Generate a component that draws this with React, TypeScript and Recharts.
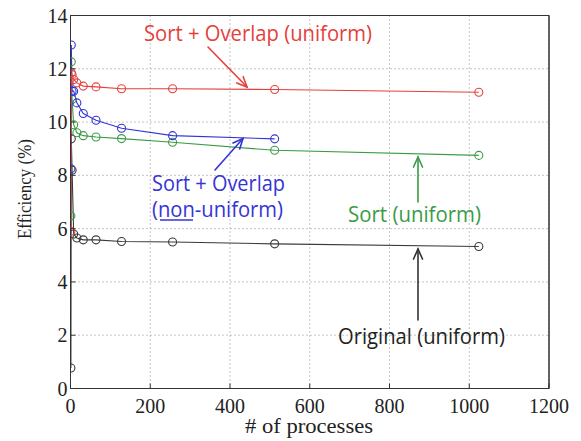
import React from 'react';
import { LineChart, Line, XAxis, YAxis, CartesianGrid, ReferenceArea } from 'recharts';

const procsAll = [1, 2, 4, 8, 16, 32, 64, 128, 256, 512, 1024];
const procsNonUniform = [1, 2, 4, 8, 16, 32, 64, 128, 256, 512];
const originalUniform = [0.77, 9.37, 8.19, 5.8, 5.65, 5.58, 5.58, 5.52, 5.5, 5.43, 5.33];
const sortUniform = [6.48, 12.26, 10.85, 9.9, 9.6, 9.49, 9.44, 9.38, 9.24, 8.94, 8.75];
const sortOverlapUniform = [5.9, 11.85, 11.78, 11.6, 11.47, 11.35, 11.32, 11.25, 11.25, 11.22, 11.12];
const sortOverlapNonUniform = [8.25, 12.89, 11.16, 11.16, 10.72, 10.32, 10.07, 9.77, 9.49, 9.37];
const xTicks = [0, 200, 400, 600, 800, 1000, 1200];
const yTicks = [0, 2, 4, 6, 8, 10, 12, 14];

const toRows = (xs: number[], ys: number[]) => xs.map((x, i) => ({ x, y: ys[i] }));

const W = 581;
const H = 441;
const SERIF = '"Liberation Serif", "Times New Roman", serif';
const SANS = '"Open Sans", "Noto Sans", sans-serif';

const RED = '#e5403c';
const BLUE = '#3434d6';
const GREEN = '#3b9b45';
const BLACK = '#3a3a3a';

const BottomTick = (p: any) => (
  <g>
    <line x1={p.x} x2={p.x} y1={p.y} y2={p.y - 5} stroke="#333" strokeWidth={1} />
    <text x={p.x} y={p.y + 24} textAnchor="middle" fontFamily={SERIF} fontSize={20} fill="#222">
      {p.payload.value}
    </text>
  </g>
);
const LeftTick = (p: any) => (
  <g>
    <line x1={p.x} x2={p.x + 5} y1={p.y} y2={p.y} stroke="#333" strokeWidth={1} />
    <text x={p.x - 3} y={p.y + 7} textAnchor="end" fontFamily={SERIF} fontSize={20} fill="#222">
      {p.payload.value}
    </text>
  </g>
);
const TopTick = (p: any) => (
  <line x1={p.x} x2={p.x} y1={p.y} y2={p.y + 5} stroke="#333" strokeWidth={1} />
);
const RightTick = (p: any) => (
  <line x1={p.x} x2={p.x - 5} y1={p.y} y2={p.y} stroke="#333" strokeWidth={1} />
);

const Arrow = ({ x1, y1, x2, y2, color }: any) => {
  const a = Math.atan2(y2 - y1, x2 - x1);
  const L = 11;
  const s = 0.42;
  const h1x = x2 - L * Math.cos(a - s);
  const h1y = y2 - L * Math.sin(a - s);
  const h2x = x2 - L * Math.cos(a + s);
  const h2y = y2 - L * Math.sin(a + s);
  return (
    <g stroke={color} strokeWidth={1.6} fill="none" strokeLinecap="round">
      <line x1={x1} y1={y1} x2={x2} y2={y2} />
      <polyline points={`${h1x},${h1y} ${x2},${y2} ${h2x},${h2y}`} />
    </g>
  );
};

const Label = ({ x, y, w, color, children }: any) => (
  <text x={x} y={y} fontFamily={SANS} fontSize={21} fill={color} textLength={w} lengthAdjust="spacingAndGlyphs">
    {children}
  </text>
);

export default function App() {
  const dot = (c: string) => ({ r: 4, stroke: c, strokeWidth: 1.1, fill: 'none' });
  return (
    <div style={{ position: 'absolute', left: 0, top: 0, width: W, height: H, background: '#fff' }}>
      <LineChart width={W} height={H} margin={{ top: 14.5, right: 31, bottom: 22.5, left: 10 }}>
        <CartesianGrid stroke="#8a8a8a" strokeDasharray="1 3" strokeWidth={1} />
        <XAxis
          type="number"
          dataKey="x"
          domain={[0, 1200]}
          ticks={xTicks}
          allowDataOverflow
          height={30}
          tickSize={0}
          tickMargin={0}
          tickLine={false}
          axisLine={{ stroke: '#333' }}
          tick={BottomTick}
        />
        <XAxis
          xAxisId="top"
          orientation="top"
          type="number"
          dataKey="x"
          domain={[0, 1200]}
          ticks={xTicks}
          height={1}
          tickSize={0}
          tickMargin={0}
          tickLine={false}
          axisLine={{ stroke: '#333' }}
          tick={TopTick}
        />
        <YAxis
          type="number"
          domain={[0, 14]}
          ticks={yTicks}
          width={60.5}
          tickSize={0}
          tickMargin={0}
          tickLine={false}
          axisLine={{ stroke: '#333' }}
          tick={LeftTick}
        />
        <YAxis
          yAxisId="right"
          orientation="right"
          type="number"
          domain={[0, 14]}
          ticks={yTicks}
          width={1}
          tickSize={0}
          tickMargin={0}
          tickLine={false}
          axisLine={{ stroke: '#333' }}
          tick={RightTick}
        />
        <ReferenceArea x1={0} x2={1200} y1={0} y2={14} fill="none" stroke="#333" strokeWidth={1} ifOverflow="visible" />
        <Line data={toRows(procsAll, originalUniform)} dataKey="y" type="linear" stroke={BLACK} strokeWidth={1.1} dot={dot(BLACK)} isAnimationActive={false} />
        <Line data={toRows(procsAll, sortUniform)} dataKey="y" type="linear" stroke={GREEN} strokeWidth={1.1} dot={dot(GREEN)} isAnimationActive={false} />
        <Line data={toRows(procsNonUniform, sortOverlapNonUniform)} dataKey="y" type="linear" stroke={BLUE} strokeWidth={1.1} dot={dot(BLUE)} isAnimationActive={false} />
        <Line data={toRows(procsAll, sortOverlapUniform)} dataKey="y" type="linear" stroke={RED} strokeWidth={1.1} dot={dot(RED)} isAnimationActive={false} />
      </LineChart>
      <svg width={W} height={H} style={{ position: 'absolute', left: 0, top: 0, pointerEvents: 'none' }}>
        <text x={309} y={433} textAnchor="middle" fontFamily={SERIF} fontSize={20} fill="#222" textLength={128} lengthAdjust="spacingAndGlyphs">
          # of processes
        </text>
        <text
          x={0}
          y={0}
          transform="translate(31,189) rotate(-90)"
          textAnchor="middle"
          fontFamily={SERIF}
          fontSize={19}
          fill="#222"
          textLength={100}
          lengthAdjust="spacingAndGlyphs"
        >
          Efficiency (%)
        </text>
        <Label x={144} y={41} w={228} color={RED}>Sort + Overlap (uniform)</Label>
        <Arrow x1={208} y1={47} x2={247} y2={87} color={RED} />
        <Label x={152} y={191} w={133} color={BLUE}>Sort + Overlap</Label>
        <Label x={152} y={217} w={131} color={BLUE}>(non-uniform)</Label>
        <line x1={160} x2={193} y1={220} y2={220} stroke={BLUE} strokeWidth={1.5} />
        <Arrow x1={215} y1={170} x2={243} y2={138.5} color={BLUE} />
        <Label x={348} y={222} w={133} color={GREEN}>Sort (uniform)</Label>
        <Arrow x1={418} y1={202} x2={418} y2={157} color={GREEN} />
        <Label x={338} y={344} w={167} color="#222">Original (uniform)</Label>
        <Arrow x1={418} y1={320} x2={418} y2={249} color="#333" />
      </svg>
    </div>
  );
}
